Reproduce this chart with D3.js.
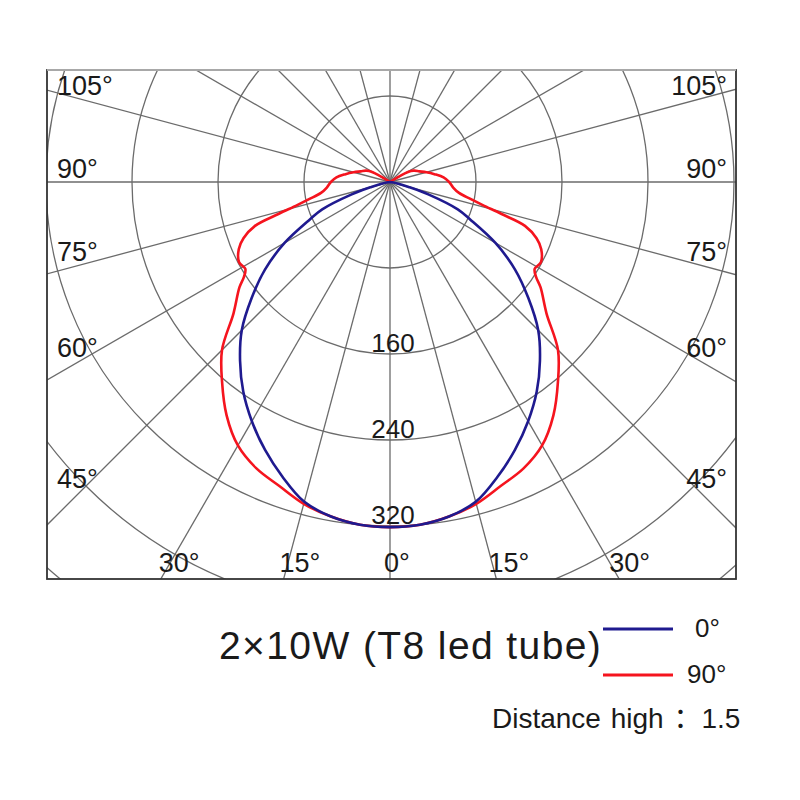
<!DOCTYPE html>
<html>
<head>
<meta charset="utf-8">
<script src="https://cdn.jsdelivr.net/npm/d3@7"></script>
<style>
  body { margin: 0; background: #fff; }
  text { font-family: "Liberation Sans", Arial, "Noto Sans CJK SC", sans-serif; fill: #1a1a1a; }
</style>
</head>
<body>
<div class="chart"></div>
<script>
// C0 plane (blue) and C90 plane (red), angle from nadir in degrees, intensity in cd
const anglesC0 = [0, 5, 10, 15, 20, 25, 30, 35, 40, 45, 50, 55, 60, 65, 68, 72, 75, 78, 82, 90];
const valuesC0 = [321, 320, 316, 308, 292, 275, 257, 238, 217, 195, 168, 142, 113, 82, 68, 38, 18, 8, 2, 0];

const anglesC90 = [0, 5, 10, 15, 20, 25, 30, 35, 40, 45, 50, 55, 57, 59, 62, 66, 69, 72, 74, 76, 78, 81, 85, 90, 95, 100, 105, 110, 115, 118, 121, 124];
const valuesC90 = [321, 320, 316, 310, 301, 294, 283, 265, 243, 221, 190, 171, 162, 157, 159, 154, 146, 132, 108, 89, 77, 65, 59, 55, 50, 42, 35, 29, 25, 22, 13, 0];

const ringValues = [80, 160, 240, 320, 400, 480];
const ringLabels = [160, 240, 320];
const rayAngles = d3.range(0, 360, 15);
const sideLabels = [105, 90, 75, 60, 45];
const bottomLabels = [-30, -15, 0, 15, 30];

const seriesNames = ["0°", "90°"];
const seriesColors = ["#1f1a8f", "#f5141e"];

const width = 800, height = 800;
const frame = {left: 47, top: 70, right: 736, bottom: 579};
const cx = 390, cy = 182;

const r = d3.scaleLinear().domain([0, 80]).range([0, 86]);
const rad = d => d * Math.PI / 180;

const svg = d3.select('.chart').append('svg')
  .attr('width', width)
  .attr('height', height)
  .attr('viewBox', [0, 0, width, height]);

svg.append('clipPath').attr('id', 'frame')
  .append('rect')
  .attr('x', frame.left).attr('y', frame.top)
  .attr('width', frame.right - frame.left)
  .attr('height', frame.bottom - frame.top);

const plot = svg.append('g').attr('clip-path', 'url(#frame)');
const grid = plot.append('g').attr('transform', `translate(${cx},${cy})`);

// rings
grid.selectAll('circle')
  .data(ringValues)
  .join('circle')
  .attr('r', d => r(d))
  .attr('fill', 'none')
  .attr('stroke', '#6b6b6b')
  .attr('stroke-width', 1.3);

// rays every 15 degrees
grid.selectAll('line')
  .data(rayAngles)
  .join('line')
  .attr('x1', 0).attr('y1', 0)
  .attr('x2', d => 700 * Math.sin(rad(d)))
  .attr('y2', d => 700 * Math.cos(rad(d)))
  .attr('stroke', '#6b6b6b')
  .attr('stroke-width', 1.3);

// ring labels
grid.selectAll('text.ring')
  .data(ringLabels)
  .join('text')
  .attr('class', 'ring')
  .attr('x', 3)
  .attr('y', d => r(d) - 2)
  .attr('text-anchor', 'middle')
  .attr('font-size', 26)
  .text(d => d);

// curves
function mirror(angles, values) {
  const pts = [];
  for (let i = angles.length - 1; i > 0; i--) pts.push([-angles[i], values[i]]);
  for (let i = 0; i < angles.length; i++) pts.push([angles[i], values[i]]);
  return pts;
}

const line = d3.lineRadial()
  .angle(d => Math.PI - rad(d[0]))
  .radius(d => r(d[1]))
  .curve(d3.curveCatmullRom.alpha(0.5));

const series = [mirror(anglesC0, valuesC0), mirror(anglesC90, valuesC90)];

// red first, blue on top
grid.selectAll('path.curve')
  .data([1, 0])
  .join('path')
  .attr('class', 'curve')
  .attr('d', i => line(series[i]))
  .attr('fill', 'none')
  .attr('stroke', i => seriesColors[i])
  .attr('stroke-width', 2.6);

// frame
svg.append('rect')
  .attr('x', frame.left).attr('y', frame.top)
  .attr('width', frame.right - frame.left)
  .attr('height', frame.bottom - frame.top)
  .attr('fill', 'none')
  .attr('stroke', '#333')
  .attr('stroke-width', 1.8);
svg.append('line')
  .attr('x1', frame.left).attr('x2', frame.right)
  .attr('y1', frame.top).attr('y2', frame.top)
  .attr('stroke', '#a8a8a8')
  .attr('stroke-width', 2);

// angle labels
const labels = svg.append('g').attr('font-size', 27);
sideLabels.forEach(a => {
  const y = cy + 310 / Math.tan(rad(a)) - 4;
  labels.append('text').attr('x', 57).attr('y', y).text(a + '°');
  labels.append('text').attr('x', 727).attr('y', y).attr('text-anchor', 'end').text(a + '°');
});
bottomLabels.forEach(a => {
  const y = 572;
  const x = cx + (y - cy) * Math.tan(rad(a)) - 6;
  labels.append('text').attr('x', x).attr('y', y).text(Math.abs(a) + '°');
});

// title and legend
svg.append('text')
  .attr('x', 219).attr('y', 659)
  .attr('font-size', 39)
  .attr('letter-spacing', 1.4)
  .text('2×10W (T8 led tube)');

const legend = svg.append('g');
[629, 675].forEach((y, i) => {
  legend.append('line')
    .attr('x1', 603).attr('x2', 673)
    .attr('y1', y).attr('y2', y)
    .attr('stroke', seriesColors[i])
    .attr('stroke-width', 3);
});
legend.append('text').attr('x', 695).attr('y', 637).attr('font-size', 26).text(seriesNames[0]);
legend.append('text').attr('x', 687).attr('y', 683).attr('font-size', 26).text(seriesNames[1]);

svg.append('text')
  .attr('x', 492).attr('y', 728)
  .attr('font-size', 28)
  .attr('word-spacing', 2)
  .text('Distance high ：1.5');
</script>
</body>
</html>
